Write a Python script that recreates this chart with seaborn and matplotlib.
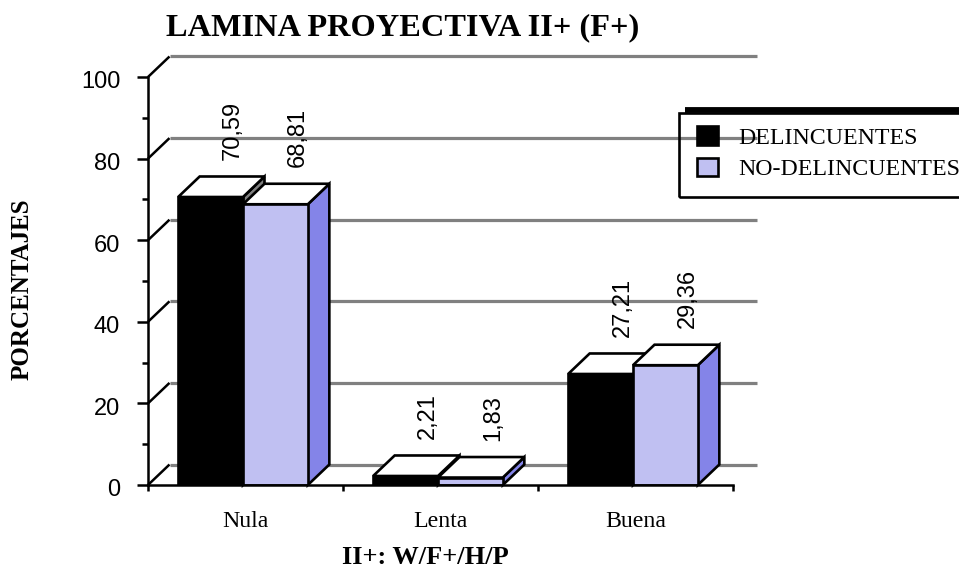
import matplotlib
matplotlib.use("Agg")
import matplotlib.pyplot as plt
import pandas as pd
import seaborn as sns
from matplotlib.patches import Rectangle
from matplotlib.transforms import ScaledTranslation
from matplotlib.ticker import MultipleLocator, FixedLocator, FixedFormatter, NullFormatter

categories = ["Nula", "Lenta", "Buena"]
delincuentes = [70.59, 2.21, 27.21]
no_delincuentes = [68.81, 1.83, 29.36]
labels_del = ["70,59", "2,21", "27,21"]
labels_no = ["68,81", "1,83", "29,36"]
series_names = ["DELINCUENTES", "NO-DELINCUENTES"]
y_ticks = [0, 20, 40, 60, 80, 100]

W, H = 959, 570
sns.set_theme(style="ticks")
plt.rcParams["font.family"] = ["Liberation Sans", "DejaVu Sans"]
SERIF = "Liberation Serif"

df = pd.DataFrame({
    "cat": categories * 2,
    "val": delincuentes + no_delincuentes,
    "serie": [series_names[0]] * 3 + [series_names[1]] * 3,
})

fig = plt.figure(figsize=(W / 100, H / 100), dpi=100, facecolor="white")
L, R, T, B = 148, 733, 77, 485
ax = fig.add_axes([L / W, 1 - B / H, (R - L) / W, (B - T) / H])
ax.set_facecolor("none")

FRONT = ["#000000", "#C0C0F2"]
SIDE = ["#808080", "#8484E8"]
LW = 1.9

sns.barplot(data=df, x="cat", y="val", hue="serie", order=categories,
            hue_order=series_names, palette=FRONT, width=0.665, gap=0,
            edgecolor="black", linewidth=LW, saturation=1, legend=True, ax=ax)

ax.set_xlim(-0.5, 2.5)
ax.set_ylim(0, 100)
px_x = 3 / (R - L)
px_y = 100 / (B - T)
dx, dy = 21.5 * px_x, 20.5 * px_y
shift = -2.5 * px_x

# back wall
for v in y_ticks:
    ax.plot([-0.5, -0.5 + dx], [v, v + dy], color="black", lw=1.8, clip_on=False, zorder=2,
            solid_capstyle="butt")
    ax.plot([-0.5 + dx, 2.5 + 24 * px_x], [v + dy, v + dy], color="#808080", lw=2.3,
            clip_on=False, zorder=1, solid_capstyle="butt")

# 3-D faces derived from the bars
texts = [labels_del, labels_no]
for s, cont in enumerate(ax.containers):
    for i, p in enumerate(cont.patches):
        p.set_x(p.get_x() + shift)
        x0, w, h = p.get_x(), p.get_width(), p.get_height()
        x1 = x0 + w
        p.set_zorder(3.5 + s * 2)
        ax.fill([x1, x1 + dx, x1 + dx, x1], [0, dy, h + dy, h], facecolor=SIDE[s],
                edgecolor="black", lw=LW, clip_on=False, zorder=3 + s * 2, joinstyle="miter")
        ax.fill([x0, x0 + dx, x1 + dx, x1], [h, h + dy, h + dy, h], facecolor="white",
                edgecolor="black", lw=LW, clip_on=False, zorder=3 + s * 2, joinstyle="miter")
        ax.text(x0 + w / 2 + dx + 1 * px_x, h + 37 * px_y, texts[s][i], rotation=90, ha="center",
                va="bottom", fontsize=17, color="black", zorder=8, clip_on=False)

for side in ("top", "right"):
    ax.spines[side].set_visible(False)
for side in ("left", "bottom"):
    ax.spines[side].set_linewidth(1.8)
    ax.spines[side].set_color("black")
    ax.spines[side].set_zorder(7)

ax.set_yticks(y_ticks)
ax.yaxis.set_minor_locator(MultipleLocator(10))
ax.yaxis.set_minor_formatter(NullFormatter())
ax.tick_params(axis="y", which="major", length=8, width=1.8, labelsize=17, pad=12, color="black",
               labelcolor="black")
ax.tick_params(axis="y", which="minor", length=4, width=1.8, color="black", left=True)
for t in ax.get_yticklabels():
    t.set_transform(t.get_transform() + ScaledTranslation(0, -3 / 100, fig.dpi_scale_trans))

ax.xaxis.set_major_locator(FixedLocator([-0.5, 0.5, 1.5, 2.5]))
ax.xaxis.set_major_formatter(NullFormatter())
ax.xaxis.set_minor_locator(FixedLocator([0, 1, 2]))
ax.xaxis.set_minor_formatter(FixedFormatter(categories))
ax.tick_params(axis="x", which="major", length=4.5, width=1.8, color="black")
ax.tick_params(axis="x", which="minor", length=0, pad=18.5, labelsize=17.2, labelcolor="black")
for t in ax.get_xticklabels(minor=True):
    t.set_fontfamily(SERIF)

ax.set_xlabel("")
ax.set_ylabel("")
fig.text(22 / W, 1 - 289 / H, "PORCENTAJES", rotation=90, ha="center", va="center",
         family=SERIF, weight="bold", fontsize=18, color="black")
fig.text(425 / W, 1 - 558 / H, "II+: W/F+/H/P", ha="center", va="center",
         family=SERIF, weight="bold", fontsize=19, color="black")
fig.text(403 / W, 1 - 28 / H, "LAMINA PROYECTIVA II+ (F+)", ha="center", va="center",
         family=SERIF, weight="bold", fontsize=23.3, color="black")

# legend
handles, lab = ax.get_legend_handles_labels()
leg = ax.legend(handles, lab, loc="upper left", bbox_to_anchor=(697 / W, 1 - 126 / H),
                bbox_transform=fig.transFigure, frameon=False,
                prop={"family": SERIF, "size": 17.2}, borderaxespad=0, borderpad=0,
                handlelength=0.87, handleheight=0.83, handletextpad=0.85, labelspacing=0.38)
leg.set_zorder(9)
for t in leg.get_texts():
    t.set_color("black")
fig.add_artist(Rectangle((679 / W, 1 - 197 / H), 300 / W, 84 / H, facecolor="none",
                         edgecolor="black", lw=1.9, transform=fig.transFigure, clip_on=True))
fig.add_artist(plt.Line2D([685 / W, 1], [1 - 110 / H, 1 - 110 / H], color="black", lw=4.2,
                          transform=fig.transFigure, solid_capstyle="butt"))

fig.savefig("out.png", dpi=100)
